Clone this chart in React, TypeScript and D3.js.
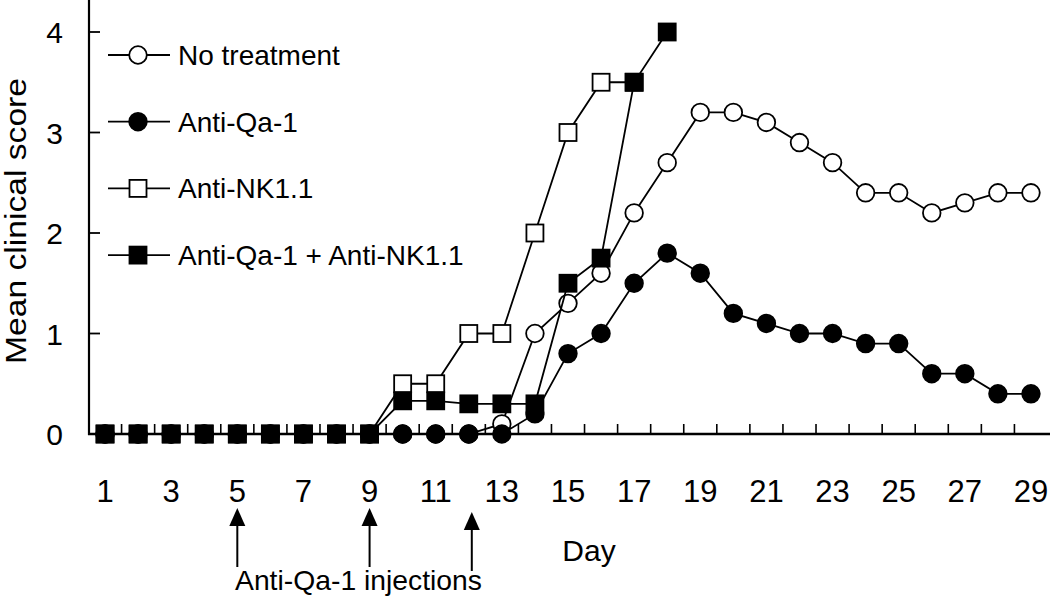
import React from "react";
import * as d3 from "d3";

const days = [1,2,3,4,5,6,7,8,9,10,11,12,13,14,15,16,17,18,19,20,21,22,23,24,25,26,27,28,29];
const noTreatment = [0,0,0,0,0,0,0,0,0,0,0,0,0.1,1.0,1.3,1.6,2.2,2.7,3.2,3.2,3.1,2.9,2.7,2.4,2.4,2.2,2.3,2.4,2.4];
const antiQa1 = [0,0,0,0,0,0,0,0,0,0,0,0,0,0.2,0.8,1.0,1.5,1.8,1.6,1.2,1.1,1.0,1.0,0.9,0.9,0.6,0.6,0.4,0.4];
const antiNK11 = [0,0,0,0,0,0,0,0,0,0.5,0.5,1.0,1.0,2.0,3.0,3.5,3.5];
const combo = [0,0,0,0,0,0,0,0,0,0.33,0.33,0.3,0.3,0.3,1.5,1.75,3.5,4.0];
const xTickLabels = [1,3,5,7,9,11,13,15,17,19,21,23,25,27,29];
const xMinorTicks = [1.5,2.5,3.5,4.5,5.5,6.5,7.5,8.5,9.5,10.5,11.5,12.5,13.5,14.5,15.5,16.5,17.5,18.5,19.5,20.5,21.5,22.5,23.5,24.5,25.5,26.5,27.5,28.5];
const yTicks = [0,1,2,3,4];
const injectionDays = [5,9,12];
const legendLabels = ["No treatment","Anti-Qa-1","Anti-NK1.1","Anti-Qa-1 + Anti-NK1.1"];

type Series = { name: string; values: number[]; shape: "circle" | "square"; fill: string };
const series: Series[] = [
  { name: legendLabels[0], values: noTreatment, shape: "circle", fill: "#fff" },
  { name: legendLabels[2], values: antiNK11, shape: "square", fill: "#fff" },
  { name: legendLabels[1], values: antiQa1, shape: "circle", fill: "#000" },
  { name: legendLabels[3], values: combo, shape: "square", fill: "#000" },
];
const legendOrder = [
  { shape: "circle", fill: "#fff" },
  { shape: "circle", fill: "#000" },
  { shape: "square", fill: "#fff" },
  { shape: "square", fill: "#000" },
];

const FONT = "'Liberation Sans', Arial, Helvetica, sans-serif";

function Marker({ x, y, shape, fill }: { x: number; y: number; shape: string; fill: string }) {
  if (shape === "circle") {
    return <circle cx={x} cy={y} r={8.8} fill={fill} stroke="#000" strokeWidth={1.8} />;
  }
  const s = 17;
  return <rect x={x - s / 2} y={y - s / 2} width={s} height={s} fill={fill} stroke="#000" strokeWidth={1.8} />;
}

export default function App() {
  const W = 1050, H = 599;
  const x = d3.scaleLinear().domain([0.5, 29.5]).range([88.5, 1047.5]);
  const y = d3.scaleLinear().domain([0, 4]).range([434, 32]);
  const line = d3.line<number>().x((_, i) => x(days[i])).y((d) => y(d));

  return (
    <svg width={W} height={H} style={{ position: "absolute", left: 0, top: 0, background: "#fff" }} fontFamily={FONT}>
      <rect x={0} y={0} width={W} height={H} fill="#fff" />
      {/* axes */}
      <line x1={89} x2={89} y1={0} y2={435} stroke="#000" strokeWidth={2.2} />
      <line x1={88} x2={1050} y1={434} y2={434} stroke="#000" strokeWidth={2.6} />
      {yTicks.map((t) => (
        <g key={"y" + t}>
          <line x1={89} x2={100} y1={y(t)} y2={y(t)} stroke="#000" strokeWidth={1.8} />
          <text x={63} y={y(t) + 11} fontSize={30} textAnchor="end">{t}</text>
        </g>
      ))}
      {xMinorTicks.map((t) => (
        <line key={"xt" + t} x1={x(t)} x2={x(t)} y1={434} y2={424} stroke="#000" strokeWidth={1.6} />
      ))}
      {xTickLabels.map((t) => (
        <text key={"xl" + t} x={x(t)} y={502} fontSize={31} textAnchor="middle">{t}</text>
      ))}
      <text x={589} y={561} fontSize={30} textAnchor="middle">Day</text>
      <text transform={`translate(26,${221}) rotate(-90)`} fontSize={30} textAnchor="middle" textLength={286} lengthAdjust="spacingAndGlyphs">Mean clinical score</text>

      {/* injection arrows */}
      {injectionDays.map((d, i) => {
        const ax = x(d) + (d === 12 ? 3 : 0);
        const top = d === 12 ? 512 : 508;
        return (
          <g key={"arr" + d}>
            <line x1={ax} x2={ax} y1={top + 14} y2={top + 59} stroke="#000" strokeWidth={2} />
            <path d={`M${ax},${top} L${ax - 8},${top + 18} L${ax + 8},${top + 18} Z`} fill="#000" />
          </g>
        );
      })}
      <text x={235} y={590} fontSize={28} textLength={247} lengthAdjust="spacingAndGlyphs">Anti-Qa-1 injections</text>

      {/* series */}
      {series.map((s) => (
        <g key={s.name}>
          <path d={line(s.values) || ""} fill="none" stroke="#000" strokeWidth={1.8} />
          {s.values.map((v, i) => (
            <Marker key={i} x={x(days[i])} y={y(v)} shape={s.shape} fill={s.fill} />
          ))}
        </g>
      ))}

      {/* legend */}
      {legendLabels.map((lab, i) => {
        const ly = 55 + i * 66.7;
        const m = legendOrder[i];
        return (
          <g key={"lg" + i}>
            <line x1={108} x2={170} y1={ly} y2={ly} stroke="#000" strokeWidth={1.8} />
            <Marker x={138} y={ly} shape={m.shape} fill={m.fill} />
            <text x={178} y={ly + 10} fontSize={28}>{lab}</text>
          </g>
        );
      })}
    </svg>
  );
}
